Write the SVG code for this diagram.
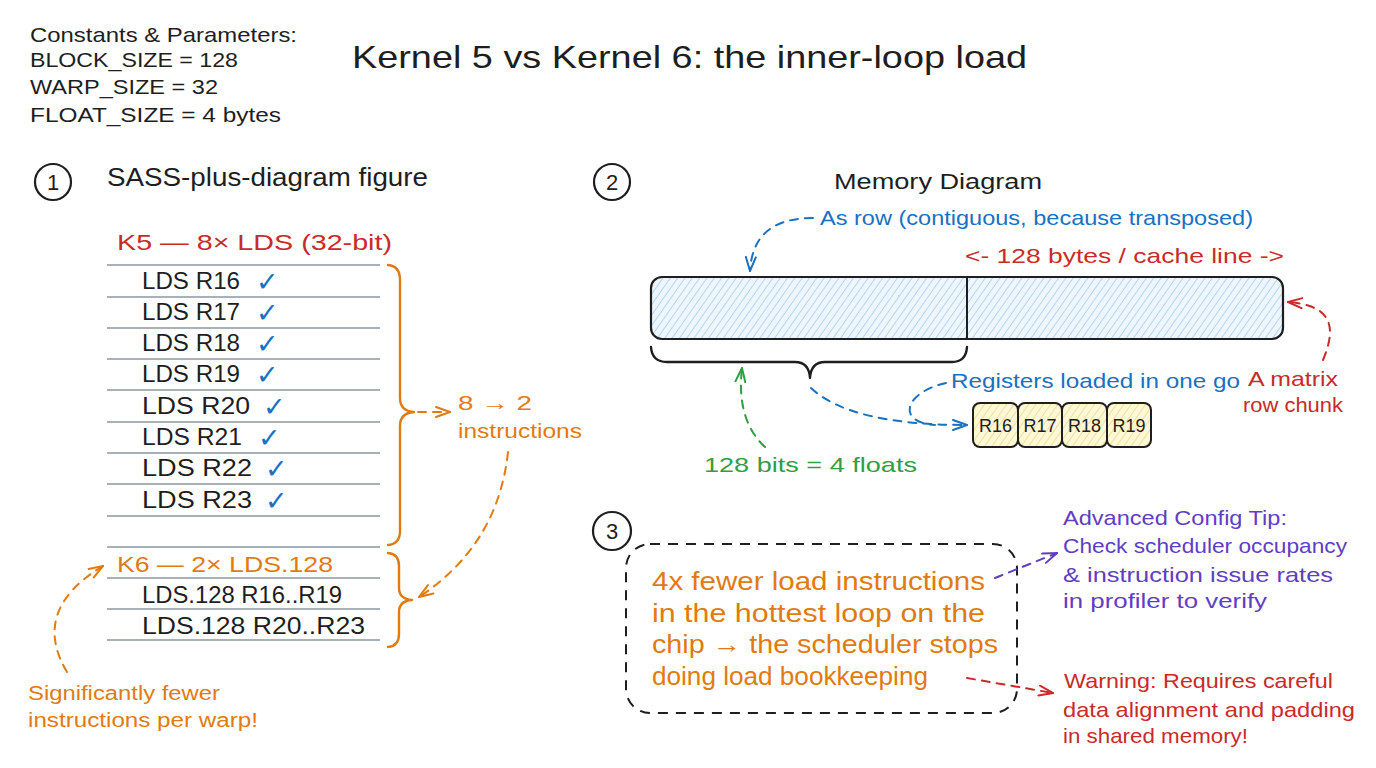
<svg xmlns="http://www.w3.org/2000/svg" width="1376" height="768" viewBox="0 0 1376 768">
<style>
text{font-family:"Liberation Sans","Noto Sans",sans-serif;}
.k{fill:#1e1e1e;}
.o{fill:#e07b12;}
.r{fill:#c92a2a;}
.b{fill:#1971c2;}
.g{fill:#2f9e44;}
.p{fill:#5f3dc4;}
.row{font-size:23px;fill:#1e1e1e;}
.chk{font-family:"DejaVu Sans",sans-serif;font-size:27px;font-weight:bold;fill:#1971c2;}
.tl{stroke:#a8b0b8;stroke-width:2;fill:none;}
.circ{fill:none;stroke:#1e1e1e;stroke-width:2.2;}
.num{font-size:22px;fill:#1e1e1e;text-anchor:middle;}
.dash{fill:none;stroke-width:2;stroke-dasharray:8 7;stroke-linecap:round;}
.brace{fill:none;stroke-width:2.4;stroke-linecap:round;stroke-linejoin:round;}
.reg{stroke:#1e1e1e;stroke-width:2;fill:url(#hy);}
.regt{font-size:18px;fill:#1e1e1e;text-anchor:middle;}
</style>
<defs>
<pattern id="hb" patternUnits="userSpaceOnUse" width="6" height="6" patternTransform="rotate(35)">
<rect width="6" height="6" fill="#eef6fd"/>
<line x1="0" y1="0" x2="0" y2="6" stroke="#98c4ec" stroke-width="1.3"/>
</pattern>
<pattern id="hy" patternUnits="userSpaceOnUse" width="6" height="6" patternTransform="rotate(35)">
<rect width="6" height="6" fill="#fff8d6"/>
<line x1="0" y1="0" x2="0" y2="6" stroke="#e6d480" stroke-width="1.3"/>
</pattern>
<marker id="ao" viewBox="0 0 16 12" refX="15" refY="6" markerWidth="16" markerHeight="12" markerUnits="userSpaceOnUse" orient="auto"><path d="M1,1 L15,6 L1,11" fill="none" stroke="#e07b12" stroke-width="2" stroke-linecap="round"/></marker>
<marker id="ab" viewBox="0 0 16 12" refX="15" refY="6" markerWidth="16" markerHeight="12" markerUnits="userSpaceOnUse" orient="auto"><path d="M1,1 L15,6 L1,11" fill="none" stroke="#1971c2" stroke-width="2" stroke-linecap="round"/></marker>
<marker id="ar" viewBox="0 0 16 12" refX="15" refY="6" markerWidth="16" markerHeight="12" markerUnits="userSpaceOnUse" orient="auto"><path d="M1,1 L15,6 L1,11" fill="none" stroke="#c92a2a" stroke-width="2" stroke-linecap="round"/></marker>
<marker id="ag" viewBox="0 0 16 12" refX="15" refY="6" markerWidth="16" markerHeight="12" markerUnits="userSpaceOnUse" orient="auto"><path d="M1,1 L15,6 L1,11" fill="none" stroke="#2f9e44" stroke-width="2" stroke-linecap="round"/></marker>
<marker id="ap" viewBox="0 0 16 12" refX="15" refY="6" markerWidth="16" markerHeight="12" markerUnits="userSpaceOnUse" orient="auto"><path d="M1,1 L15,6 L1,11" fill="none" stroke="#5f3dc4" stroke-width="2" stroke-linecap="round"/></marker>
</defs>
<rect width="1376" height="768" fill="#ffffff"/>

<g id="constants">
<text x="30" y="42" font-size="21" class="k" textLength="267" lengthAdjust="spacingAndGlyphs">Constants &amp; Parameters:</text>
<text x="30" y="67" font-size="21" class="k" textLength="208" lengthAdjust="spacingAndGlyphs">BLOCK_SIZE = 128</text>
<text x="30" y="94" font-size="21" class="k" textLength="188" lengthAdjust="spacingAndGlyphs">WARP_SIZE = 32</text>
<text x="30" y="122" font-size="21" class="k" textLength="251" lengthAdjust="spacingAndGlyphs">FLOAT_SIZE = 4 bytes</text>
</g>

<g id="title">
<text x="352" y="68" font-size="32" class="k" textLength="675" lengthAdjust="spacingAndGlyphs">Kernel 5 vs Kernel 6: the inner-loop load</text>
</g>

<g id="section1-header">
<circle cx="53" cy="182" r="18" class="circ"/>
<text x="53" y="190" class="num">1</text>
<text x="107" y="186" font-size="25" class="k" textLength="321" lengthAdjust="spacingAndGlyphs">SASS-plus-diagram figure</text>
</g>

<g id="k5-table">
<text x="117" y="250" font-size="22" class="r" textLength="275" lengthAdjust="spacingAndGlyphs">K5 — 8× LDS (32-bit)</text>
<path class="tl" d="M107,265 H380 M107,297 H380 M107,328 H380 M107,359 H380 M107,390 H380 M107,422 H380 M107,453 H380 M107,484 H380 M107,516 H380 M107,547 H380"/>
<text x="142" y="289" class="row" textLength="98" lengthAdjust="spacingAndGlyphs">LDS R16</text>
<text x="142" y="320" class="row" textLength="98" lengthAdjust="spacingAndGlyphs">LDS R17</text>
<text x="142" y="351" class="row" textLength="98" lengthAdjust="spacingAndGlyphs">LDS R18</text>
<text x="142" y="382" class="row" textLength="98" lengthAdjust="spacingAndGlyphs">LDS R19</text>
<text x="142" y="414" class="row" textLength="108" lengthAdjust="spacingAndGlyphs">LDS R20</text>
<text x="142" y="445" class="row" textLength="100" lengthAdjust="spacingAndGlyphs">LDS R21</text>
<text x="142" y="476" class="row" textLength="110" lengthAdjust="spacingAndGlyphs">LDS R22</text>
<text x="142" y="508" class="row" textLength="110" lengthAdjust="spacingAndGlyphs">LDS R23</text>
<text x="256" y="291" class="chk">✓</text>
<text x="256" y="322" class="chk">✓</text>
<text x="256" y="353" class="chk">✓</text>
<text x="256" y="384" class="chk">✓</text>
<text x="263" y="416" class="chk">✓</text>
<text x="258" y="447" class="chk">✓</text>
<text x="265" y="478" class="chk">✓</text>
<text x="265" y="510" class="chk">✓</text>
<path class="brace" stroke="#e07b12" d="M388,265 Q400,266 400,280 L400,398 Q400,411 414,412 Q400,413 400,426 L400,531 Q400,544 388,545"/>
</g>

<g id="k5-note">
<text x="458" y="410" font-size="20" class="o" textLength="74" lengthAdjust="spacingAndGlyphs">8 → 2</text>
<text x="458" y="438" font-size="20" class="o" textLength="124" lengthAdjust="spacingAndGlyphs">instructions</text>
</g>

<g id="k6-table">
<path class="tl" d="M107,578 H380 M107,609 H380 M107,640 H380"/>
<text x="117" y="572" font-size="22" class="o" textLength="216" lengthAdjust="spacingAndGlyphs">K6 — 2× LDS.128</text>
<text x="142" y="603" class="row" textLength="200" lengthAdjust="spacingAndGlyphs">LDS.128 R16..R19</text>
<text x="142" y="634" class="row" textLength="223" lengthAdjust="spacingAndGlyphs">LDS.128 R20..R23</text>
<path class="brace" stroke="#e07b12" d="M388,553 Q399,554 399,566 L399,588 Q399,599 412,600 Q399,601 399,612 L399,634 Q399,646 388,647"/>
</g>

<g id="k6-note">
<text x="28" y="700" font-size="20" class="o" textLength="192" lengthAdjust="spacingAndGlyphs">Significantly fewer</text>
<text x="28" y="727" font-size="20" class="o" textLength="230" lengthAdjust="spacingAndGlyphs">instructions per warp!</text>
</g>

<g id="section2-header">
<circle cx="612" cy="182" r="18" class="circ"/>
<text x="612" y="190" class="num">2</text>
<text x="834" y="189" font-size="22" class="k" textLength="208" lengthAdjust="spacingAndGlyphs">Memory Diagram</text>
</g>

<g id="as-row-label">
<text x="820" y="225" font-size="21" class="b" textLength="433" lengthAdjust="spacingAndGlyphs">As row (contiguous, because transposed)</text>
</g>

<g id="cache-line-label">
<text x="965" y="263" font-size="21" class="r" textLength="319" lengthAdjust="spacingAndGlyphs">&lt;- 128 bytes / cache line -&gt;</text>
</g>

<g id="memory-bar">
<rect x="651" y="277" width="632" height="62" rx="11" fill="url(#hb)" stroke="#1e1e1e" stroke-width="2.2"/>
<line x1="967" y1="277" x2="967" y2="339" stroke="#1e1e1e" stroke-width="2"/>
<path class="brace" stroke="#1e1e1e" d="M651,347 Q652,362 667,362 L795,362 Q809,362 810,378 Q811,362 825,362 L952,362 Q966,362 967,347"/>
</g>

<g id="registers">
<rect x="973" y="403" width="45" height="44" rx="7" class="reg"/>
<rect x="1018" y="403" width="44" height="44" rx="7" class="reg"/>
<rect x="1062" y="403" width="45" height="44" rx="7" class="reg"/>
<rect x="1107" y="403" width="44" height="44" rx="7" class="reg"/>
<text x="995.5" y="432" class="regt">R16</text>
<text x="1040" y="432" class="regt">R17</text>
<text x="1084.5" y="432" class="regt">R18</text>
<text x="1129" y="432" class="regt">R19</text>
</g>

<g id="registers-label">
<text x="951" y="388" font-size="21" class="b" textLength="289" lengthAdjust="spacingAndGlyphs">Registers loaded in one go</text>
</g>

<g id="a-matrix-label">
<text x="1248" y="386" font-size="21" class="r" textLength="90" lengthAdjust="spacingAndGlyphs">A matrix</text>
<text x="1243" y="412" font-size="21" class="r" textLength="100" lengthAdjust="spacingAndGlyphs">row chunk</text>
</g>

<g id="bits-label">
<text x="704" y="472" font-size="21" class="g" textLength="213" lengthAdjust="spacingAndGlyphs">128 bits = 4 floats</text>
</g>

<g id="section3">
<circle cx="612" cy="531" r="19" class="circ"/>
<text x="612" y="539" class="num">3</text>
<rect x="626" y="544" width="391" height="169" rx="24" fill="none" stroke="#1e1e1e" stroke-width="2" stroke-dasharray="10 8"/>
<text x="652" y="590" font-size="25" class="o" textLength="333" lengthAdjust="spacingAndGlyphs">4x fewer load instructions</text>
<text x="652" y="622" font-size="25" class="o" textLength="333" lengthAdjust="spacingAndGlyphs">in the hottest loop on the</text>
<text x="652" y="653" font-size="25" class="o" textLength="346" lengthAdjust="spacingAndGlyphs">chip → the scheduler stops</text>
<text x="652" y="685" font-size="25" class="o" textLength="276" lengthAdjust="spacingAndGlyphs">doing load bookkeeping</text>
</g>

<g id="tip-note">
<text x="1063" y="525" font-size="21" class="p" textLength="224" lengthAdjust="spacingAndGlyphs">Advanced Config Tip:</text>
<text x="1063" y="553" font-size="21" class="p" textLength="284" lengthAdjust="spacingAndGlyphs">Check scheduler occupancy</text>
<text x="1063" y="582" font-size="21" class="p" textLength="270" lengthAdjust="spacingAndGlyphs">&amp; instruction issue rates</text>
<text x="1063" y="608" font-size="21" class="p" textLength="204" lengthAdjust="spacingAndGlyphs">in profiler to verify</text>
</g>

<g id="warning-note">
<text x="1064" y="688" font-size="21" class="r" textLength="269" lengthAdjust="spacingAndGlyphs">Warning: Requires careful</text>
<text x="1063" y="717" font-size="21" class="r" textLength="292" lengthAdjust="spacingAndGlyphs">data alignment and padding</text>
<text x="1063" y="743" font-size="21" class="r" textLength="185" lengthAdjust="spacingAndGlyphs">in shared memory!</text>
</g>

<g id="connectors">
<path class="dash" stroke="#e07b12" marker-end="url(#ao)" d="M418,412 L450,412"/>
<path class="dash" stroke="#e07b12" marker-end="url(#ao)" d="M508,452 Q498,545 419,597"/>
<path class="dash" stroke="#e07b12" marker-end="url(#ao)" d="M67,672 Q30,610 103,566"/>
<path class="dash" stroke="#1971c2" marker-end="url(#ab)" d="M813,218 C772,218 752,236 750,271"/>
<path class="dash" stroke="#1971c2" marker-end="url(#ab)" d="M811,388 Q850,425 967,425"/>
<path class="dash" stroke="#1971c2" d="M946,383 C905,392 895,422 935,425"/>
<path class="dash" stroke="#2f9e44" marker-end="url(#ag)" d="M765,447 Q736,420 742,368"/>
<path class="dash" stroke="#c92a2a" marker-end="url(#ar)" d="M1323,360 C1340,320 1325,305 1288,302"/>
<path class="dash" stroke="#5f3dc4" marker-end="url(#ap)" d="M995,578 L1057,553"/>
<path class="dash" stroke="#c92a2a" marker-end="url(#ar)" d="M967,678 L1053,693"/>
</g>
</svg>
